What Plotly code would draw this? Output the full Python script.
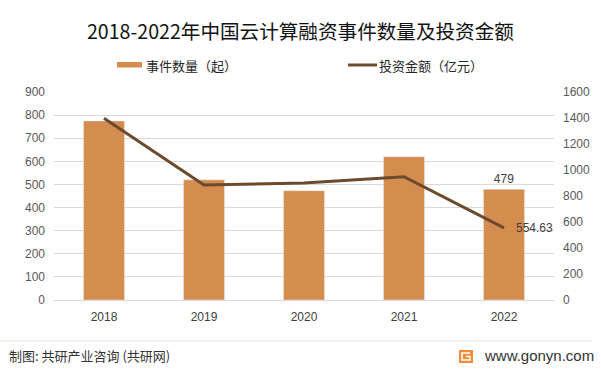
import plotly.graph_objects as go

years = ["2018", "2019", "2020", "2021", "2022"]
event_counts = [775, 520, 473, 620, 479]
invest_amounts = [1398, 885, 900, 948, 554.63]
left_ticks = list(range(0, 901, 100))
right_ticks = list(range(0, 1601, 200))

title_text = "2018-2022年中国云计算融资事件数量及投资金额"
bar_name = "事件数量（起）"
line_name = "投资金额（亿元）"
footer_left = "制图: 共研产业咨询 (共研网)"
footer_right = "www.gonyn.com"

W, H = 601, 372
L, R, T, B = 54, 47, 92, 72
PW, PH = W - L - R, H - T - B

def px(x):
    return (x - L) / PW

def py(y):
    return (H - B - y) / PH

BAR_COLOR = "#D58D4F"
LINE_COLOR = "#6B4A2E"
TICK_COLOR = "#595959"
CJK = "Noto Sans CJK SC"

fig = go.Figure()
fig.add_trace(go.Bar(
    x=years, y=event_counts, name=bar_name, marker_color=BAR_COLOR,
    width=0.41, yaxis="y",
    text=["", "", "", "", str(event_counts[-1])],
    textposition="outside", textfont=dict(size=12, color="#404040", family="Liberation Sans"),
    cliponaxis=False, showlegend=False,
))
fig.add_trace(go.Scatter(
    x=years, y=invest_amounts, name=line_name, mode="lines",
    line=dict(color=LINE_COLOR, width=3), yaxis="y2",
    cliponaxis=False, showlegend=False,
))

fig.update_layout(
    width=W, height=H,
    margin=dict(l=L, r=R, t=T, b=B, autoexpand=False),
    plot_bgcolor="white", paper_bgcolor="white",
    font=dict(family="Liberation Sans", color=TICK_COLOR, size=12),
    showlegend=False,
    bargap=0.59,
    xaxis=dict(
        type="category", range=[-0.5, 4.5], showgrid=False, automargin=False,
        showline=True, linecolor="#D9D9D9", linewidth=1,
        ticks="", tickfont=dict(size=12, color="#404040"), ticklabelstandoff=6,
    ),
    yaxis=dict(
        range=[0, 900], tickvals=left_ticks, showgrid=True, gridcolor="#D9D9D9",
        gridwidth=1, zeroline=False, ticks="", tickfont=dict(size=12, color=TICK_COLOR),
        ticklabelstandoff=8, automargin=False,
    ),
    yaxis2=dict(
        range=[0, 1600], tickvals=right_ticks, overlaying="y", side="right",
        showgrid=False, zeroline=False, ticks="", tickfont=dict(size=12, color=TICK_COLOR),
        ticklabelstandoff=8, automargin=False,
    ),
)

shapes = []
annotations = []

# Title
annotations.append(dict(
    text=title_text, xref="paper", yref="paper", x=px(300), y=py(31),
    xanchor="center", yanchor="middle", showarrow=False,
    font=dict(family=CJK, size=19.6, color="#111111"),
))

# Last-point label of line
annotations.append(dict(
    text=f"{invest_amounts[-1]:.2f}", x=len(years) - 1, y=invest_amounts[-1],
    xref="x", yref="y2", xanchor="left", yanchor="middle", xshift=10,
    showarrow=False, font=dict(size=12, color="#404040", family="Liberation Sans"),
))

# Legend
shapes.append(dict(type="rect", xref="paper", yref="paper",
                   x0=px(117), x1=px(142), y0=py(62), y1=py(67.5),
                   fillcolor=BAR_COLOR, line=dict(width=0)))
annotations.append(dict(
    text=bar_name, xref="paper", yref="paper", x=px(144), y=py(65),
    xanchor="left", yanchor="middle", showarrow=False,
    font=dict(family=CJK, size=13, color="#262626"),
))
shapes.append(dict(type="line", xref="paper", yref="paper",
                   x0=px(348), x1=px(377), y0=py(65), y1=py(65),
                   line=dict(color=LINE_COLOR, width=3)))
annotations.append(dict(
    text=line_name, xref="paper", yref="paper", x=px(377), y=py(65),
    xanchor="left", yanchor="middle", showarrow=False,
    font=dict(family=CJK, size=13, color="#262626"),
))

# Footer
shapes.append(dict(type="line", xref="paper", yref="paper",
                   x0=px(0), x1=px(592), y0=py(341), y1=py(341),
                   line=dict(color="#E6E6E6", width=1)))
annotations.append(dict(
    text=footer_left, xref="paper", yref="paper", x=px(7), y=py(355),
    xanchor="left", yanchor="middle", showarrow=False,
    font=dict(family=CJK, size=13, color="#333333"),
))
shapes.append(dict(type="rect", xref="paper", yref="paper",
                   x0=px(459), x1=px(473), y0=py(350), y1=py(363),
                   fillcolor="#F28C3A", line=dict(width=0)))
shapes.append(dict(type="path", xref="paper", yref="paper",
                   path=f"M {px(470)} {py(353)} L {px(462)} {py(353)} L {px(462)} {py(360)} L {px(470)} {py(360)} L {px(470)} {py(356.5)} L {px(466)} {py(356.5)}",
                   line=dict(color="white", width=1.6)))
annotations.append(dict(
    text=footer_right, xref="paper", yref="paper", x=px(482), y=py(355),
    xanchor="left", yanchor="middle", showarrow=False,
    font=dict(family="Liberation Sans", size=15, color="#333333"),
))

fig.update_layout(shapes=shapes, annotations=annotations)
fig.write_html(
    "out.html",
    config={"displayModeBar": False},
    post_script="document.body.style.margin='0';document.body.style.overflow='hidden';",
)
